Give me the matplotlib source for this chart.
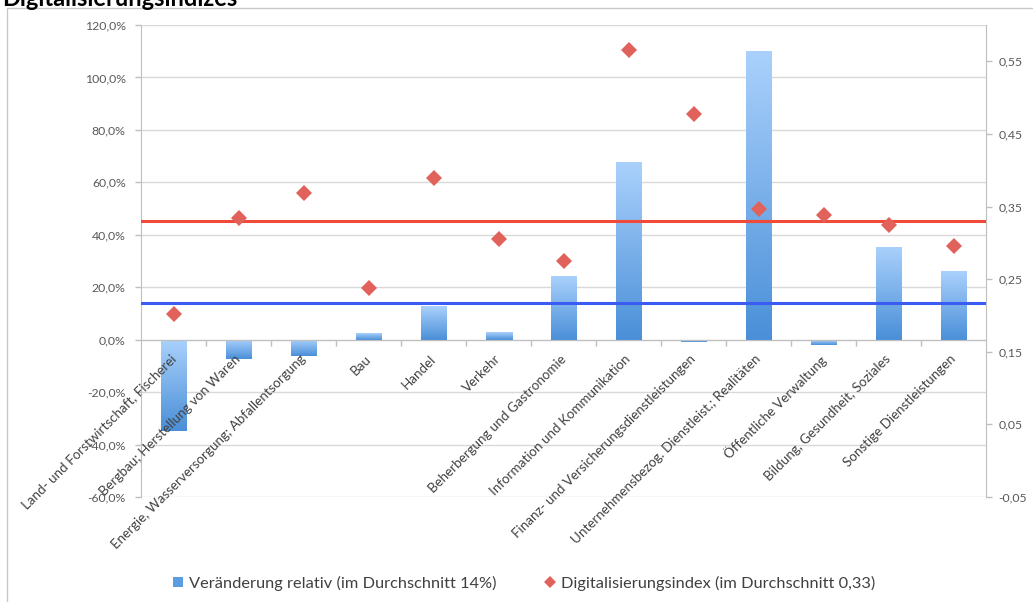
import numpy as np
import matplotlib
matplotlib.use("Agg")
import matplotlib.pyplot as plt
from matplotlib.patches import Rectangle, Patch
from matplotlib.lines import Line2D
from matplotlib.transforms import ScaledTranslation
from matplotlib.ticker import FixedLocator, FuncFormatter

# --- data -------------------------------------------------------------
categories = [
    "Land- und Forstwirtschaft, Fischerei",
    "Bergbau; Herstellung von Waren",
    "Energie, Wasserversorgung; Abfallentsorgung",
    "Bau",
    "Handel",
    "Verkehr",
    "Beherbergung und Gastronomie",
    "Information und Kommunikation",
    "Finanz- und Versicherungsdienstleistungen",
    "Unternehmensbezog. Dienstleist.; Realitäten",
    "Öffentliche Verwaltung",
    "Bildung, Gesundheit, Soziales",
    "Sonstige Dienstleistungen",
]
change_pct = [-35.0, -7.4, -6.3, 2.5, 12.7, 2.9, 24.1, 67.7, -0.9, 110.1, -1.9, 35.5, 26.3]
digital_index = [0.202, 0.334, 0.368, 0.238, 0.389, 0.305, 0.275, 0.566, 0.478, 0.346, 0.338, 0.324, 0.296]
avg_change = 14.0
avg_index = 0.33

left_ticks = [-60, -40, -20, 0, 20, 40, 60, 80, 100, 120]
right_ticks = [-0.05, 0.05, 0.15, 0.25, 0.35, 0.45, 0.55]

title = "Digitalisierungsindizes"
legend_bar = "Veränderung relativ (im Durchschnitt 14%)"
legend_idx = "Digitalisierungsindex (im Durchschnitt 0,33)"

# --- style ------------------------------------------------------------
plt.rcParams["font.family"] = ["Lato", "DejaVu Sans"]
TXT = "#595959"
GRID = "#d9d9d9"
AXIS = "#bfbfbf"
BAR_TOP = np.array([0xaa, 0xd1, 0xfc]) / 255
BAR_BOT = np.array([0x4a, 0x8f, 0xd8]) / 255
MARK = "#e1625b"

fig = plt.figure(figsize=(10.33, 6.02), dpi=100)
W, H = 1033, 602
ax = fig.add_axes([141 / W, 1 - 497 / H, (986 - 141) / W, (497 - 25) / H])
ax2 = ax.twinx()

x = np.arange(len(categories))

# gridlines and axes (left, percent)
ax.set_ylim(-60, 120)
ax.set_xlim(-0.5, len(categories) - 0.5)
ax.yaxis.set_major_locator(FixedLocator(left_ticks))
ax.yaxis.set_major_formatter(FuncFormatter(lambda v, p: f"{v:.1f}%".replace(".", ",")))
ax.yaxis.grid(True, color=GRID, lw=1)
ax.set_axisbelow(True)
ax.tick_params(axis="y", length=4, width=1, color=AXIS, labelcolor=TXT,
               labelsize=8.8, pad=7, direction="out")
for s in ("top", "right"):
    ax.spines[s].set_visible(False)
ax.spines["left"].set_color(AXIS)
ax.spines["bottom"].set_position(("data", 0))
ax.spines["bottom"].set_color(AXIS)
ax.xaxis.set_major_locator(FixedLocator(np.arange(0.5, len(categories) - 1, 1.0)))
ax.xaxis.set_major_formatter(FuncFormatter(lambda v, p: ""))
ax.tick_params(axis="x", length=4, width=1, color=AXIS, direction="out")

# bars with vertical gradient (light at top, darker at bottom)
bars = ax.bar(x, change_pct, width=0.4, color=BAR_BOT, zorder=2, linewidth=0)
grad = np.linspace(0, 1, 256)[:, None, None]
grad_img = BAR_TOP * (1 - grad) + BAR_BOT * grad
for rect in bars:
    x0, y0 = rect.get_x(), rect.get_y()
    w, h = rect.get_width(), rect.get_height()
    lo, hi = min(y0, y0 + h), max(y0, y0 + h)
    im = ax.imshow(grad_img, extent=[x0, x0 + w, lo, hi], origin="upper",
                   aspect="auto", zorder=2.1, interpolation="bilinear")
    im.set_clip_path(rect)
ax.set_xlim(-0.5, len(categories) - 0.5)
ax.set_ylim(-60, 120)

# average change line
ax.axhline(avg_change, color="#3b5cf2", lw=2.2, zorder=3)

# category labels, rotated along the zero line
offset = ScaledTranslation(-4 / 100, -13 / 100, fig.dpi_scale_trans)
for xi, lab in zip(x, categories):
    ax.text(xi, 0, lab, rotation=45, rotation_mode="anchor", ha="right", va="top",
            fontsize=9.6, color="#404040", transform=ax.transData + offset, zorder=4)

# right axis: digitalisation index
ax2.set_ylim(-0.05, 0.6)
ax2.yaxis.set_major_locator(FixedLocator(right_ticks))
ax2.yaxis.set_major_formatter(FuncFormatter(lambda v, p: f"{v:.2f}".replace(".", ",")))
ax2.tick_params(axis="y", length=4, width=1, color=AXIS, labelcolor=TXT,
                labelsize=8.8, pad=5, direction="out")
for s in ("top", "left", "bottom"):
    ax2.spines[s].set_visible(False)
ax2.spines["right"].set_color(AXIS)
ax2.axhline(avg_index, color="#f04a3a", lw=2.2, zorder=3)
ax2.plot(x, digital_index, linestyle="none", marker="D", markersize=8,
         color=MARK, markeredgewidth=0, zorder=4)

# legend
handles = [
    Patch(facecolor="#5c9de2", edgecolor="none"),
    Line2D([], [], linestyle="none", marker="D", markersize=6, color=MARK, markeredgewidth=0),
]
fig.legend(handles, [legend_bar, legend_idx], loc="center", bbox_to_anchor=(524 / W, 1 - 583 / H),
           ncol=2, frameon=False, fontsize=11.8, labelcolor="#404040", handlelength=0.6,
           handleheight=0.6, handletextpad=0.35, columnspacing=3.0)

# outer frame and title at the very top edge
fig.patches.append(Rectangle((7 / W, -0.1), 2, 1.1 - 8 / H, transform=fig.transFigure,
                             facecolor="none", edgecolor="#c8c8c8", lw=1))
fig.text(2 / W, 1 - 6.5 / H, title, fontsize=17, fontweight="bold", color="black",
         ha="left", va="baseline")

fig.savefig("out.png", dpi=100)
